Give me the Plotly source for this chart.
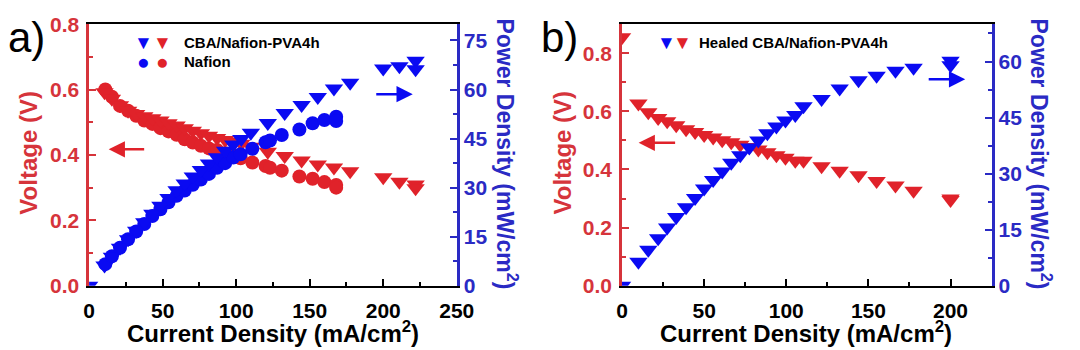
import plotly.graph_objects as go

# ---------------- data ----------------
# Panel a) CBA/Nafion-PVA4h
cba_current = [0, 10.5, 15.5, 21, 26.5, 32, 37.5, 43, 48.5, 54, 59.5, 65, 70.5, 76, 81.5, 87, 92.5, 98,
               103.5, 110, 121.5, 133, 144.5, 155.5, 166.5, 177.5, 200, 211, 222, 222]
cba_voltage = [0.93, 0.592, 0.572, 0.552, 0.535, 0.525, 0.518, 0.512, 0.505, 0.497, 0.490, 0.482, 0.474,
               0.466, 0.459, 0.452, 0.446, 0.441, 0.434, 0.425, 0.410, 0.397, 0.383, 0.371, 0.362, 0.350,
               0.332, 0.318, 0.310, 0.298]
cba_power = [0, 6.2, 8.9, 11.6, 14.2, 16.8, 19.4, 22.0, 24.5, 26.8, 29.2, 31.3, 33.4, 35.4, 37.4, 39.3,
             41.3, 43.2, 44.9, 46.8, 49.8, 52.8, 55.3, 57.7, 60.3, 62.1, 66.4, 67.1, 68.8, 66.2]

# Panel a) Nafion
naf_current = [11, 15.5, 21, 26.5, 32, 37.5, 43, 48.5, 54, 59.5, 65, 70.5, 76, 81.5, 87, 92.5, 98,
               103, 111, 120, 123, 131, 143, 152, 160, 168, 168]
naf_voltage = [0.600, 0.578, 0.550, 0.535, 0.520, 0.505, 0.495, 0.482, 0.472, 0.462, 0.448, 0.438, 0.428,
               0.420, 0.415, 0.405, 0.400, 0.390, 0.377, 0.366, 0.361, 0.352, 0.334, 0.327, 0.317, 0.308, 0.300]
naf_power = [6.6, 9.0, 11.6, 14.2, 16.6, 18.9, 21.3, 23.4, 25.5, 27.5, 29.1, 30.9, 32.5, 34.2, 36.1, 37.5,
             39.2, 40.2, 41.9, 43.9, 44.4, 46.1, 47.8, 49.7, 50.7, 51.7, 50.4]

# Panel b) Healed CBA/Nafion-PVA4h
heal_current = [0, 10, 16, 22, 27.5, 33, 39, 44.5, 50, 55.5, 61, 66.5, 72, 77.5, 83, 88.5, 94, 99.5,
                105.5, 110.5, 121.5, 132.5, 144, 155, 166.5, 177.5, 200, 200]
heal_voltage = [0.855, 0.627, 0.597, 0.577, 0.566, 0.552, 0.538, 0.529, 0.519, 0.510, 0.501, 0.494, 0.485,
                0.477, 0.469, 0.459, 0.449, 0.440, 0.430, 0.430, 0.411, 0.396, 0.380, 0.360, 0.345, 0.327,
                0.300, 0.295]
heal_power = [0, 6.4, 9.6, 12.7, 15.6, 18.4, 21.0, 23.5, 26.0, 28.3, 30.6, 32.9, 34.9, 37.0, 38.9, 40.8,
              42.6, 44.2, 45.7, 48.0, 50.0, 52.8, 55.0, 56.2, 57.5, 58.3, 60.2, 59.0]

x_title = "Current Density (mA/cm<sup>2</sup>)"
v_title = "Voltage (V)"
p_title = "Power Density (mW/cm<sup>2</sup>)"

# ---------------- style ----------------
RED = "#E0222A"
BLUE = "#0A0AF2"
RED_AX = "#D6343B"
BLUE_AX = "#2A2AC4"
FONT = "Liberation Sans, Arial, sans-serif"
W, H = 1080, 350


def px(x):
    return x / W


def py(y):
    return 1 - y / H


fig = go.Figure()

tri = dict(symbol="triangle-down", size=16, line=dict(width=0))
cir = dict(symbol="circle", size=14, line=dict(width=0))

# panel a: voltage (left axis)
fig.add_trace(go.Scatter(x=naf_current, y=naf_voltage, mode="markers", marker=dict(color=RED, **cir),
                         xaxis="x", yaxis="y", name="Nafion V"))
fig.add_trace(go.Scatter(x=cba_current, y=cba_voltage, mode="markers", marker=dict(color=RED, **tri),
                         xaxis="x", yaxis="y", name="CBA V"))
# panel a: power (right axis)
fig.add_trace(go.Scatter(x=naf_current, y=naf_power, mode="markers", marker=dict(color=BLUE, **cir),
                         xaxis="x", yaxis="y2", name="Nafion P"))
fig.add_trace(go.Scatter(x=cba_current, y=cba_power, mode="markers", marker=dict(color=BLUE, **tri),
                         xaxis="x", yaxis="y2", name="CBA P"))
# panel b
fig.add_trace(go.Scatter(x=heal_current, y=heal_voltage, mode="markers", marker=dict(color=RED, **tri),
                         xaxis="x2", yaxis="y3", name="Healed V"))
fig.add_trace(go.Scatter(x=heal_current, y=heal_power, mode="markers", marker=dict(color=BLUE, **tri),
                         xaxis="x2", yaxis="y4", name="Healed P"))

tickfont_black = dict(family=FONT, size=21, color="black", weight="bold")
tickfont_red = dict(family=FONT, size=21, color=RED_AX, weight="bold")
tickfont_blue = dict(family=FONT, size=21, color=BLUE_AX, weight="bold")

ydom = [py(293), py(13)]


def xaxis_cfg(domain, rng, anchor):
    return dict(domain=domain, range=rng, anchor=anchor, showline=True, linecolor="black", linewidth=2,
                mirror=True, ticks="inside", ticklen=7, tickwidth=2, tickcolor="black", dtick=50, tick0=0,
                minor=dict(ticks="inside", ticklen=4, tickwidth=1.5, tickcolor="black", dtick=25, tick0=0),
                showgrid=False, zeroline=False, tickfont=tickfont_black, ticklabelstandoff=5,
                fixedrange=True)


def yaxis_left(rng, anchor):
    return dict(domain=ydom, range=rng, anchor=anchor, showline=True, linecolor=RED_AX, linewidth=2.5,
                ticks="inside", ticklen=7, tickwidth=2, tickcolor=RED_AX, dtick=0.2, tick0=0, tickformat=".1f",
                minor=dict(ticks="inside", ticklen=4, tickwidth=1.5, tickcolor=RED_AX, dtick=0.1, tick0=0),
                showgrid=False, zeroline=False, tickfont=tickfont_red, ticklabelstandoff=3, fixedrange=True)


def yaxis_right(rng, anchor, overlay):
    return dict(range=rng, anchor=anchor, overlaying=overlay, side="right", showline=True, linecolor=BLUE_AX,
                linewidth=2.5, ticks="inside", ticklen=7, tickwidth=2, tickcolor=BLUE_AX, dtick=15, tick0=0,
                minor=dict(ticks="inside", ticklen=4, tickwidth=1.5, tickcolor=BLUE_AX, dtick=7.5, tick0=0),
                showgrid=False, zeroline=False, tickfont=tickfont_blue, fixedrange=True)


fig.update_layout(
    width=W, height=H, margin=dict(l=0, r=0, t=0, b=0),
    paper_bgcolor="white", plot_bgcolor="white", showlegend=False,
    xaxis=xaxis_cfg([px(85), px(461)], [0, 250], "y"),
    yaxis=yaxis_left([0, 0.8], "x"),
    yaxis2=yaxis_right([0, 80], "x", "y"),
    xaxis2=xaxis_cfg([px(630), px(1008)], [0, 225], "y3"),
    yaxis3=yaxis_left([0, 0.9], "x2"),
    yaxis4=yaxis_right([0, 70], "x2", "y3"),
)

ann = []


def text(x, y, s, size, color, angle=0, bold=True, xanchor="center"):
    ann.append(dict(x=px(x), y=py(y), xref="paper", yref="paper", text=s, showarrow=False, textangle=angle,
                    xanchor=xanchor, yanchor="middle",
                    font=dict(family=FONT, size=size, color=color, weight="bold" if bold else "normal")))


def arrow(x_head, x_tail, y, color):
    ann.append(dict(x=px(x_head), y=py(y), xref="paper", yref="paper", ax=x_tail - x_head, ay=0,
                    axref="pixel", ayref="pixel", text="", showarrow=True, arrowhead=2, arrowsize=1.3,
                    arrowwidth=2.5, arrowcolor=color))


# axis titles
text(273, 343, x_title, 24, "black")
text(23, 150, v_title, 24, RED_AX, angle=-90)
text(512, 152, p_title, 23, BLUE_AX, angle=90)
text(818, 343, x_title, 24, "black")
text(569, 150, v_title, 24, RED_AX, angle=-90)
text(1058, 152, p_title, 23, BLUE_AX, angle=90)

# panel labels
text(21, 27, "a)", 42, "black", bold=False)
text(566, 27, "b)", 42, "black", bold=False)

# legend glyphs and labels
text(141, 33, "▼", 19, BLUE, bold=False)
text(160, 33, "▼", 19, RED, bold=False)
text(141, 53, "●", 21, BLUE, bold=False)
text(160, 53, "●", 21, RED, bold=False)
text(180, 33, "CBA/Nafion-PVA4h", 15, "black", xanchor="left")
text(180, 53, "Nafion", 15, "black", xanchor="left")

text(675, 33, "▼", 19, BLUE, bold=False)
text(692, 33, "▼", 19, RED, bold=False)
text(707, 33, "Healed CBA/Nafion-PVA4h", 15, "black", xanchor="left")

# arrows
arrow(105, 142, 147, RED)
arrow(416, 378, 88, BLUE)
arrow(647, 685, 140, RED)
arrow(981, 943, 72, BLUE)

fig.update_layout(annotations=ann)

fig.write_html("out.html")
